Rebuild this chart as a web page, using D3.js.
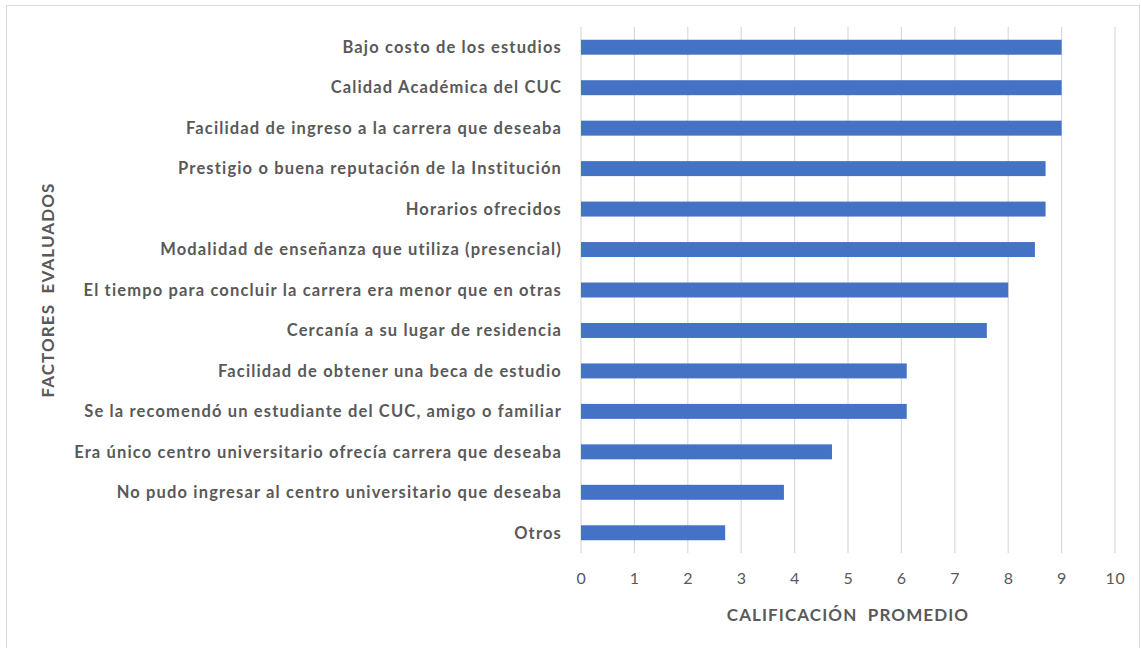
<!DOCTYPE html>
<html>
<head>
<meta charset="utf-8">
<script src="https://cdn.jsdelivr.net/npm/d3@7"></script>
<style>
  body { margin: 0; background: #fff; }
  text { font-family: Lato, "Open Sans", sans-serif; }
</style>
</head>
<body>
<svg id="chart" width="1141" height="648"></svg>
<script>
const factors = [
  "Bajo costo de los estudios",
  "Calidad Académica del CUC",
  "Facilidad de ingreso a la carrera que deseaba",
  "Prestigio o buena reputación de la Institución",
  "Horarios ofrecidos",
  "Modalidad de enseñanza que utiliza (presencial)",
  "El tiempo para concluir la carrera era menor que en otras",
  "Cercanía a su lugar de residencia",
  "Facilidad de obtener una beca de estudio",
  "Se la recomendó un estudiante del CUC, amigo o familiar",
  "Era único centro universitario ofrecía carrera que deseaba",
  "No pudo ingresar al centro universitario que deseaba",
  "Otros"
];
const scores = [9.0, 9.0, 9.0, 8.7, 8.7, 8.5, 8.0, 7.6, 6.1, 6.1, 4.7, 3.8, 2.7];
const xTicks = [0, 1, 2, 3, 4, 5, 6, 7, 8, 9, 10];

const svg = d3.select("#chart");
const margin = {top: 27, right: 26, bottom: 95, left: 581};
const width = 1141, height = 648;

// chart border
svg.append("rect")
  .attr("x", 6.5).attr("y", 5.5)
  .attr("width", width - 8).attr("height", height - 4)
  .attr("fill", "none").attr("stroke", "#d9d9d9");

const x = d3.scaleLinear().domain([0, 10]).range([margin.left, width - margin.right]);
const y = d3.scaleBand().domain(factors)
  .range([margin.top, height - margin.bottom])
  .paddingInner(0.63).paddingOuter(0.315);

// gridlines
svg.append("g")
  .selectAll("line")
  .data(xTicks)
  .join("line")
  .attr("x1", d => x(d)).attr("x2", d => x(d))
  .attr("y1", margin.top).attr("y2", height - margin.bottom)
  .attr("stroke", "#d9d9d9").attr("stroke-width", 1.2);

// bars
svg.append("g")
  .selectAll("rect")
  .data(factors)
  .join("rect")
  .attr("x", x(0))
  .attr("y", d => y(d))
  .attr("width", (d, i) => x(scores[i]) - x(0))
  .attr("height", y.bandwidth())
  .attr("fill", "#4472c4");

// category labels
svg.append("g")
  .selectAll("text")
  .data(factors)
  .join("text")
  .attr("x", margin.left - 19)
  .attr("y", d => y(d) + y.bandwidth() / 2)
  .attr("dy", "0.35em")
  .attr("text-anchor", "end")
  .attr("font-size", 16.5)
  .attr("font-weight", "bold")
  .attr("letter-spacing", 1.15)
  .attr("fill", "#595959")
  .text(d => d);

// x tick labels
const xAxis = svg.append("g")
  .attr("transform", `translate(0,${height - margin.bottom})`)
  .call(d3.axisBottom(x).tickValues(xTicks).tickSize(0).tickPadding(20));
xAxis.select(".domain").remove();
xAxis.selectAll("text")
  .attr("font-size", 16)
  .attr("letter-spacing", 0.8)
  .attr("fill", "#595959")
  .style("font-family", "Lato, sans-serif");

// axis titles
svg.append("text")
  .attr("x", x(5))
  .attr("y", 621)
  .attr("text-anchor", "middle")
  .attr("font-size", 17)
  .attr("font-weight", "bold")
  .attr("letter-spacing", 1.1)
  .attr("fill", "#595959")
  .text("CALIFICACIÓN  PROMEDIO")
  .style("white-space", "pre");

svg.append("text")
  .attr("transform", `translate(54,${(margin.top + height - margin.bottom) / 2}) rotate(-90)`)
  .attr("text-anchor", "middle")
  .attr("font-size", 17)
  .attr("font-weight", "bold")
  .attr("letter-spacing", 1.1)
  .attr("fill", "#595959")
  .text("FACTORES  EVALUADOS")
  .style("white-space", "pre");
</script>
</body>
</html>
